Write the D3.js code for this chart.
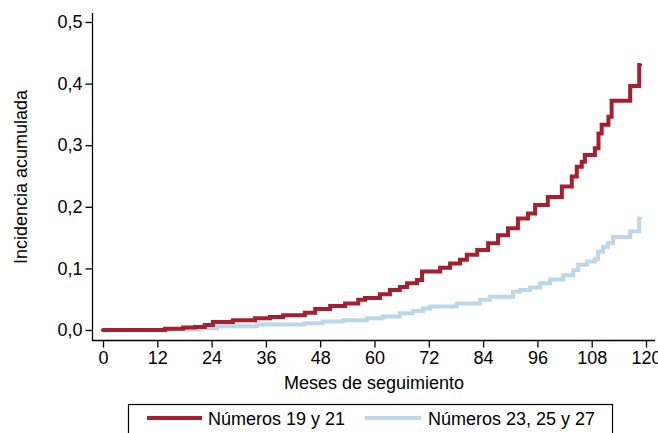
<!DOCTYPE html>
<html>
<head>
<meta charset="utf-8">
<script src="https://cdn.jsdelivr.net/npm/d3@7"></script>
<style>
  body { margin: 0; background: #fff; }
  svg { display: block; font-family: Arial, "Liberation Sans", sans-serif; }
</style>
</head>
<body>
<svg id="chart" width="658" height="433"></svg>
<script>
// step curves: month where the value jumps, and the value after the jump
const redMonths = [0, 13.7, 17.7, 20.3, 22.5, 24.3, 28.7, 33.6, 36.9, 39.8, 44.6, 46.9, 50.2, 53.5, 56.4, 57.9,
  61.2, 63.4, 65.6, 67.2, 69.4, 70.5, 74.5, 76.7, 78.9, 80.4, 82.7, 85.1, 87.3, 89.5, 91.7, 93.9, 95.5, 98.3,
  101.4, 103.6, 104.7, 105.8, 106.5, 108.7, 109.5, 110.2, 111.7, 112.4, 116.5, 118.5, 118.7];
const redValues = [0, 0.002, 0.004, 0.005, 0.008, 0.013, 0.016, 0.019, 0.021, 0.024, 0.028, 0.034, 0.039, 0.043, 0.049, 0.052,
  0.058, 0.065, 0.070, 0.076, 0.081, 0.095, 0.101, 0.108, 0.114, 0.122, 0.130, 0.141, 0.154, 0.165, 0.181, 0.189, 0.203, 0.216,
  0.233, 0.249, 0.265, 0.273, 0.284, 0.295, 0.319, 0.333, 0.346, 0.372, 0.396, 0.430, 0.430];

const blueMonths = [0, 14, 21.4, 25.2, 34, 44.6, 48.6, 53, 58.3, 61.8, 65.6, 68.5, 70.7, 72.3, 78.2, 83.3, 85.5,
  90.6, 92.2, 94.4, 96.6, 98.8, 101.7, 103.9, 105.0, 107.0, 108.7, 109.4, 110.5, 111.6, 112.7, 116.5, 118.5, 118.7];
const blueValues = [0, 0.001, 0.003, 0.006, 0.009, 0.011, 0.014, 0.016, 0.019, 0.022, 0.027, 0.031, 0.035, 0.038, 0.043, 0.049, 0.054,
  0.062, 0.065, 0.069, 0.076, 0.082, 0.089, 0.097, 0.106, 0.111, 0.115, 0.127, 0.135, 0.141, 0.151, 0.160, 0.181, 0.181];

const xTicks = [0, 12, 24, 36, 48, 60, 72, 84, 96, 108, 120];
const yTicks = [0, 0.1, 0.2, 0.3, 0.4, 0.5];
const seriesNames = ['Números 19 y 21', 'Números 23, 25 y 27'];
const seriesColors = ['#a71f2e', '#bdd6e9'];

const svg = d3.select('#chart');
const fs = 18;

const x = d3.scaleLinear().domain([0, 120]).range([103, 646]);
const y = d3.scaleLinear().domain([0, 0.5]).range([330, 22]);
const fmt = d => d3.format('.1f')(d).replace('.', ',');

// axis lines (Stata style, extending past the data area)
svg.append('line')
  .attr('x1', 92.5).attr('x2', 92.5).attr('y1', 13).attr('y2', 341)
  .attr('stroke', '#000').attr('stroke-width', 1.3);
svg.append('line')
  .attr('x1', 92).attr('x2', 655).attr('y1', 340.5).attr('y2', 340.5)
  .attr('stroke', '#000').attr('stroke-width', 1.3);

const yAxis = svg.append('g')
  .attr('transform', 'translate(92.5,0)')
  .call(d3.axisLeft(y).tickValues(yTicks).tickFormat(fmt).tickSize(7).tickPadding(3));
yAxis.select('.domain').remove();

const xAxis = svg.append('g')
  .attr('transform', 'translate(0,340.5)')
  .call(d3.axisBottom(x).tickValues(xTicks).tickSize(7).tickPadding(4));
xAxis.select('.domain').remove();

svg.selectAll('.tick line').attr('stroke', '#000').attr('stroke-width', 1.3);
svg.selectAll('.tick text').attr('font-size', fs).attr('fill', '#000')
  .attr('font-family', 'Arial, "Liberation Sans", sans-serif');

svg.append('text')
  .attr('x', 374).attr('y', 389)
  .attr('text-anchor', 'middle')
  .attr('font-size', fs)
  .text('Meses de seguimiento');

svg.append('text')
  .attr('transform', 'translate(27,177) rotate(-90)')
  .attr('text-anchor', 'middle')
  .attr('font-size', fs)
  .text('Incidencia acumulada');

// curves
const line = d3.line()
  .x(d => x(d[0]))
  .y(d => y(d[1]))
  .curve(d3.curveStepAfter);

const series = [
  d3.zip(blueMonths, blueValues),
  d3.zip(redMonths, redValues)
];
const colorsDrawn = [seriesColors[1], seriesColors[0]];

svg.selectAll('.curve')
  .data(series)
  .enter()
  .append('path')
  .classed('curve', true)
  .attr('d', line)
  .attr('fill', 'none')
  .attr('stroke', (_, i) => colorsDrawn[i])
  .attr('stroke-width', 4)
  .attr('stroke-linejoin', 'miter')
  .attr('stroke-linecap', 'round');

// legend
svg.append('rect')
  .attr('x', 128.5).attr('y', 404.5)
  .attr('width', 484).attr('height', 40)
  .attr('fill', '#fff')
  .attr('stroke', '#000').attr('stroke-width', 1.2);

const legendX = [[147, 202, 208], [365, 421, 428]];
const lg = svg.selectAll('.legend')
  .data(seriesNames)
  .enter()
  .append('g')
  .classed('legend', true);
lg.append('line')
  .attr('x1', (_, i) => legendX[i][0]).attr('x2', (_, i) => legendX[i][1])
  .attr('y1', 418).attr('y2', 418)
  .attr('stroke', (_, i) => seriesColors[i])
  .attr('stroke-width', 4);
lg.append('text')
  .attr('x', (_, i) => legendX[i][2]).attr('y', 424.5)
  .attr('font-size', fs)
  .text(d => d);
</script>
</body>
</html>
